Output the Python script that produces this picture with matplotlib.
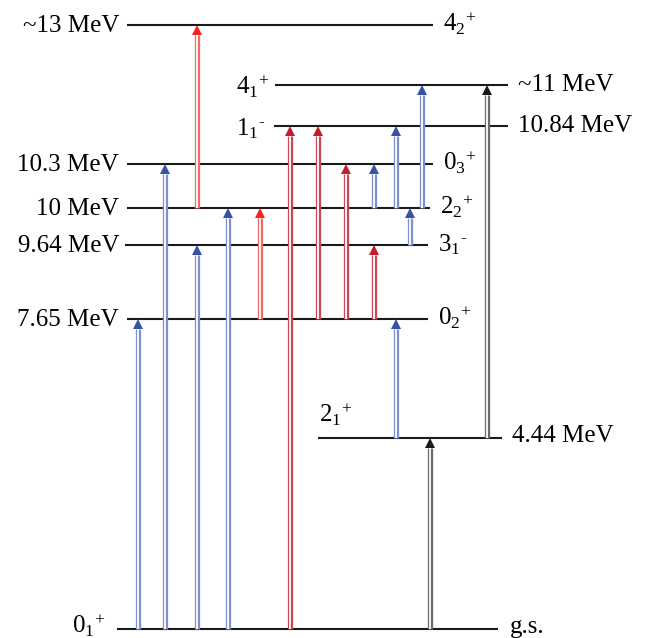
import matplotlib
matplotlib.use("Agg")
import matplotlib.pyplot as plt
from matplotlib.patches import Polygon

plt.rcParams['mathtext.fontset'] = 'custom'
plt.rcParams['mathtext.rm'] = 'Liberation Serif'
plt.rcParams['mathtext.it'] = 'Liberation Serif:italic'
plt.rcParams['font.family'] = ['Liberation Serif', 'DejaVu Serif']

# ---- data: levels (schematic heights in diagram units) ----
level_keys   = ["gs", "21", "02", "31", "22", "03", "11m", "41", "42"]
level_energy = ["g.s.", "4.44 MeV", "7.65 MeV", "9.64 MeV", "10 MeV", "10.3 MeV", "10.84 MeV", "~11 MeV", "~13 MeV"]
level_spin   = [r"$\mathregular{0_1{}^{+}}$", r"$\mathregular{2_1{}^{+}}$", r"$\mathregular{0_2{}^{+}}$",
                r"$\mathregular{3_1{}^{\text{-}}}$", r"$\mathregular{2_2{}^{+}}$", r"$\mathregular{0_3{}^{+}}$",
                r"$\mathregular{1_1{}^{\text{-}}}$", r"$\mathregular{4_1{}^{+}}$", r"$\mathregular{4_2{}^{+}}$"]
level_height = [9, 200, 319, 393, 430, 474, 512, 553, 613]
level_x0     = [117, 318, 127, 125, 127, 127, 274, 275, 127]
level_x1     = [498, 502, 428, 428, 430, 433, 508, 508, 433]

# ---- data: transitions (from, to, horizontal slot, colour group) ----
trans_from  = ["gs", "gs", "gs", "gs", "gs", "gs", "22", "02", "02", "02", "02", "22", "21", "22", "31", "22", "21"]
trans_to    = ["02", "03", "31", "22", "11m", "21", "42", "22", "11m", "03", "31", "03", "02", "11m", "22", "41", "41"]
trans_x     = [138, 165, 197, 228, 290, 430, 197, 260, 318, 346, 374, 374, 396, 396, 410, 422, 487]
trans_kind  = ["blue", "blue", "blue", "blue", "dred", "black", "red", "red", "dred", "dred", "dred",
               "blue", "blue", "blue", "blue", "blue", "black"]

head_col  = {"blue": "#3552a3", "red": "#ff1f1f", "dred": "#c01f2b", "black": "#1a1a1a"}
shaft_col = {"blue": "#7f8fc8", "red": "#f06a6a", "dred": "#c8485a", "black": "#6a6a6a"}

W, H = 659, 638
fig = plt.figure(figsize=(W / 100, H / 100), dpi=100)
ax = fig.add_axes([0, 0, 1, 1])
ax.set_xlim(0, W)
ax.set_ylim(0, H)
ax.axis("off")

ypos = dict(zip(level_keys, level_height))

# levels
for k, y, x0, x1 in zip(level_keys, level_height, level_x0, level_x1):
    ax.plot([x0, x1], [y, y], color="#1a1a1a", lw=1.5, solid_capstyle="butt", zorder=2)

fs = 18
off = 7
# energy labels
for k, lab, y, x0, x1 in zip(level_keys, level_energy, level_height, level_x0, level_x1):
    if k == "gs":
        ax.text(510, y - 4, lab, fontsize=fs, ha="left", va="baseline")
    elif k == "21":
        ax.text(512, y - off + 3, lab, fontsize=fs, ha="left", va="baseline")
    elif k in ("11m", "41"):
        ax.text(518, y - off + 1, lab, fontsize=fs, ha="left", va="baseline")
    else:
        ax.text(119, y - off, lab, fontsize=fs, ha="right", va="baseline")

# spin labels
for k, lab, y, x0, x1 in zip(level_keys, level_spin, level_height, level_x0, level_x1):
    if k == "gs":
        ax.text(72, y - 4, lab, fontsize=fs, ha="left", va="baseline")
    elif k == "21":
        ax.text(319, y + 16, lab, fontsize=fs, ha="left", va="baseline")
    elif k in ("11m", "41"):
        ax.text(236, y - 9, lab, fontsize=fs, ha="left", va="baseline")
    else:
        ax.text(x1 + 10, y - off + 1, lab, fontsize=fs, ha="left", va="baseline")

# transitions
hw, hh = 5, 10
for f, t, x, kd in zip(trans_from, trans_to, trans_x, trans_kind):
    y0, y1 = ypos[f], ypos[t]
    ax.plot([x, x], [y0, y1 - hh], color=shaft_col[kd], lw=3.8, solid_capstyle="butt", zorder=3)
    ax.plot([x, x], [y0 + 0.5, y1 - hh], color="white", lw=1.3, solid_capstyle="butt", zorder=4)
    ax.add_patch(Polygon([(x - hw, y1 - hh), (x + hw, y1 - hh), (x, y1)], closed=True,
                         facecolor=head_col[kd], edgecolor="none", zorder=5))

fig.savefig("out.png", dpi=100)
